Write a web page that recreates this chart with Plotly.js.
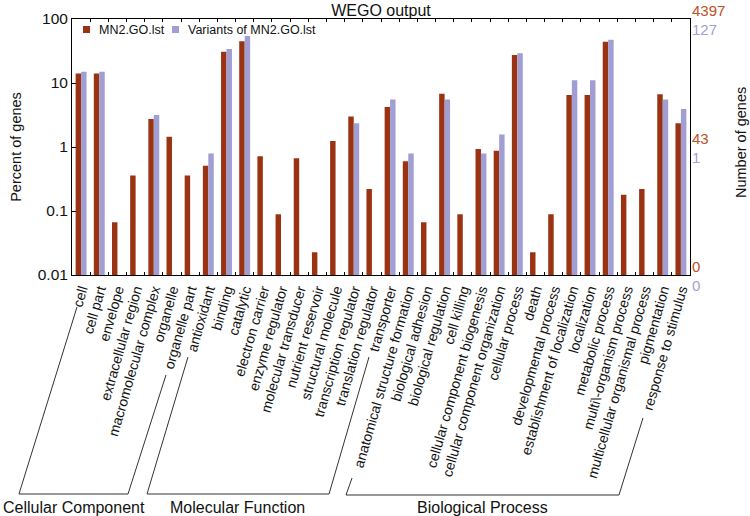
<!DOCTYPE html>
<html>
<head>
<meta charset="utf-8">
<script src="https://cdn.plot.ly/plotly-3.0.1.min.js"></script>
<style>html,body{margin:0;padding:0;background:#fff;}#chart{width:750px;height:516px;}</style>
</head>
<body>
<div id="chart"></div>
<script>
const categories = [
  "cell","cell part","envelope","extracellular region","macromolecular complex","organelle","organelle part",
  "antioxidant","binding","catalytic","electron carrier","enzyme regulator","molecular transducer","nutrient reservoir",
  "structural molecule","transcription regulator","translation regulator","transporter",
  "anatomical structure formation","biological adhesion","biological regulation","cell killing",
  "cellular component biogenesis","cellular component organization","cellular process","death",
  "developmental process","establishment of localization","localization","metabolic process",
  "multi\\-organism process","multicellular organismal process","pigmentation","response to stimulus"
];
const mn2Percent = [
  14.1,14.1,0.067,0.36,2.74,1.45,0.36,
  0.51,30.9,44.9,0.72,0.089,0.67,0.0227,
  1.24,3.0,0.22,4.2,
  0.6,0.067,6.8,0.089,
  0.93,0.87,27.4,0.0227,
  0.089,6.5,6.5,44.2,
  0.18,0.22,6.65,2.34
];
const variantPercent = [
  14.96,14.96,null,null,3.15,null,null,
  0.79,33.9,54.3,null,null,null,null,
  null,2.36,null,5.51,
  0.79,null,5.51,null,
  0.79,1.57,29.1,null,
  null,11.02,11.02,47.2,
  null,null,5.51,3.94
];
const seriesNames = ["MN2.GO.lst","Variants of MN2.GO.lst"];
const yTickVals = [0.01,0.1,1,10,100];
const yTickText = ["0.01","0.1","1","10","100"];
const rightPercents = [100,1,0.01];
const mn2Counts = ["4397","43","0"];
const variantCounts = ["127","1","0"];
const groups = ["Cellular Component","Molecular Function","Biological Process"];

const RED = "#993311", BLUE = "#A09ED2";
const RED_TXT = "#BE5028", BLUE_TXT = "#A3A0D4";
const FONT = "Liberation Sans, Arial, Helvetica, sans-serif";

// plot area in pixels: x 72..690, y 19..275
const L = 72, R = 690, T = 19, B = 275;
const px = x => (x - L) / (R - L);
const py = y => (B - y) / (B - T);
const pathOf = pts => pts.map((p, i) => (i ? "L" : "M") + px(p[0]).toFixed(4) + "," + py(p[1]).toFixed(4)).join(" ");

const brackets = [
  [[77,307],[19,494],[128,494],[166,375]],
  [[188,357],[147,494],[329,494],[369,357]],
  [[352,478],[346,495],[619,495],[643,418]]
];
const groupLabelX = [74,237,482];

const shapes = brackets.map(b => ({
  type: "path", xref: "paper", yref: "paper", path: pathOf(b),
  line: {color: "#333", width: 1}
}));
// right-axis tick at 1%
shapes.push({type: "line", xref: "paper", yref: "y", x0: 1, x1: 1 - 4/(R-L),
  y0: 0, y1: 0, line: {color: "#000", width: 1}});

// legend (drawn as swatches + labels, top-left inside the plot)
const legendSwatchX = [83, 172];
const legendColors = [RED, BLUE];
const annotations = [];
seriesNames.forEach((n, i) => {
  shapes.push({type: "rect", xref: "paper", yref: "paper",
    x0: px(legendSwatchX[i]), x1: px(legendSwatchX[i] + 7), y0: py(33), y1: py(26),
    fillcolor: legendColors[i], line: {width: 0}});
  annotations.push({text: n, xref: "paper", yref: "paper", x: px(legendSwatchX[i] + 14), y: py(29.5),
    xanchor: "left", yanchor: "middle", showarrow: false,
    font: {family: FONT, size: 12.5, color: "#111"}});
});

groups.forEach((g, i) => annotations.push({
  text: g, xref: "paper", yref: "paper", x: px(groupLabelX[i]), y: py(507),
  xanchor: "center", yanchor: "middle", showarrow: false,
  font: {family: FONT, size: 16, color: "#111"}
}));
rightPercents.forEach((p, i) => {
  annotations.push({text: mn2Counts[i], xref: "paper", yref: "y", x: 1, y: Math.log10(p),
    xanchor: "left", yanchor: "bottom", xshift: 1, yshift: -1, borderpad: 0, showarrow: false,
    font: {family: FONT, size: 15, color: RED_TXT}});
  annotations.push({text: variantCounts[i], xref: "paper", yref: "y", x: 1, y: Math.log10(p),
    xanchor: "left", yanchor: "top", xshift: 1, yshift: -1, borderpad: 0, showarrow: false,
    font: {family: FONT, size: 15, color: BLUE_TXT}});
});
annotations.push({text: "Number of genes", xref: "paper", yref: "paper",
  x: px(741), y: py(143), xanchor: "center", yanchor: "middle", textangle: -90,
  showarrow: false, font: {family: FONT, size: 14.5, color: "#111"}});

const data = [
  {type: "bar", name: seriesNames[0], x: categories, y: mn2Percent, marker: {color: RED}},
  {type: "bar", name: seriesNames[1], x: categories, y: variantPercent, marker: {color: BLUE}}
];

const layout = {
  width: 750, height: 516,
  margin: {l: L, r: 750 - R, t: T, b: 516 - B, pad: 0},
  paper_bgcolor: "#fff", plot_bgcolor: "#fff",
  font: {family: FONT, color: "#111"},
  title: {text: "WEGO output", x: 0.5, xref: "paper", y: 1 - 10/516, yref: "container",
    xanchor: "center", yanchor: "middle", font: {family: FONT, size: 16, color: "#111"}},
  barmode: "group", bargap: 0.4, bargroupgap: 0,
  showlegend: false,
  xaxis: {type: "category", tickson: "boundaries", ticks: "inside", ticklen: 3,
    tickcolor: "#000", showline: true, linecolor: "#000", linewidth: 1, mirror: "ticks",
    tickangle: -74, tickfont: {family: FONT, size: 14, color: "#111"}, showgrid: false,
    automargin: false},
  yaxis: {type: "log", range: [-2, 2], tickvals: yTickVals, ticktext: yTickText,
    ticks: "inside", ticklen: 4, tickcolor: "#000", showline: true, linecolor: "#000",
    linewidth: 1, mirror: true, showgrid: false, zeroline: false,
    tickfont: {family: FONT, size: 15.5, color: "#111"}, automargin: false,
    title: {text: "Percent of genes", standoff: 12, font: {family: FONT, size: 14.5, color: "#111"}}},
  shapes: shapes,
  annotations: annotations
};

Plotly.newPlot("chart", data, layout, {displayModeBar: false, staticPlot: true});
</script>
</body>
</html>
